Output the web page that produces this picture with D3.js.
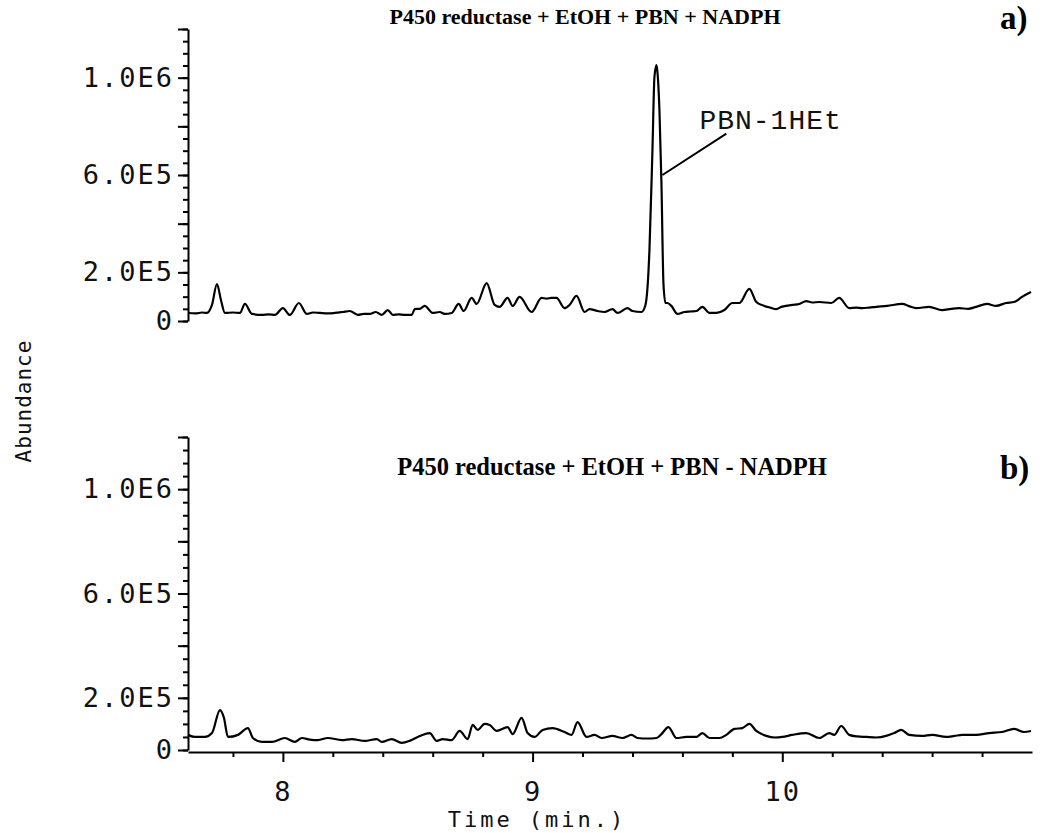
<!DOCTYPE html>
<html>
<head>
<meta charset="utf-8">
<script src="https://cdn.jsdelivr.net/npm/d3@7"></script>
<style>
  body { margin: 0; background: #fff; }
  svg { display: block; }
  .plot-font { font-family: "DejaVu Sans Mono", monospace; }
</style>
</head>
<body>
<div id="chart"></div>
<script>
// chart size (screenshot window)
var W = 1047;
var H = 833;

// trace a) : P450 reductase + EtOH + PBN + NADPH
var timeA = [7.620, 7.650, 7.676, 7.696, 7.716, 7.736, 7.752, 7.768, 7.800, 7.828, 7.848, 7.876, 7.916, 7.944, 7.968,
  8.000, 8.028, 8.064, 8.096, 8.120, 8.148, 8.180, 8.208, 8.240, 8.268, 8.300, 8.324, 8.348, 8.372, 8.396, 8.420,
  8.440, 8.464, 8.488, 8.516, 8.528, 8.548, 8.568, 8.600, 8.628, 8.648, 8.676, 8.704, 8.724, 8.756, 8.776, 8.816,
  8.848, 8.868, 8.900, 8.920, 8.948, 8.996, 9.036, 9.056, 9.076, 9.096, 9.128, 9.148, 9.176, 9.208, 9.228, 9.260,
  9.288, 9.320, 9.340, 9.380, 9.400, 9.436, 9.452, 9.468, 9.480, 9.488, 9.496, 9.500, 9.508, 9.516, 9.524, 9.532,
  9.540, 9.556, 9.580, 9.608, 9.632, 9.656, 9.680, 9.708, 9.736, 9.768, 9.800, 9.828, 9.868, 9.896, 9.928, 9.952,
  9.976, 9.996, 10.040, 10.068, 10.096, 10.120, 10.148, 10.196, 10.228, 10.268, 10.296, 10.320, 10.348, 10.376,
  10.420, 10.480, 10.510, 10.536, 10.588, 10.640, 10.676, 10.708, 10.744, 10.776, 10.820, 10.856, 10.896, 10.928,
  10.960, 10.996];
var abundA = [33, 31, 35, 33, 66, 152, 86, 33, 35, 33, 70, 29, 25, 27, 25,
  53, 25, 74, 29, 35, 33, 31, 33, 37, 41, 25, 29, 29, 37, 25, 45,
  25, 27, 25, 25, 49, 50, 62, 33, 37, 29, 33, 70, 41, 95, 70, 156,
  66, 58, 95, 62, 99, 37, 95, 92, 95, 95, 53, 66, 103, 37, 49, 41,
  37, 49, 33, 53, 41, 37, 66, 292, 703, 1003, 1052, 1023, 867, 567, 156, 74,
  74, 62, 29, 37, 39, 41, 58, 33, 33, 45, 74, 74, 132, 78, 62, 55,
  49, 58, 66, 70, 82, 76, 78, 74, 95, 53, 55, 53, 55, 58,
  62, 70, 60, 53, 58, 45, 50, 53, 50, 58, 70, 62, 74, 78,
  99, 119].map(function(d) { return d * 1000; });

// trace b) : P450 reductase + EtOH + PBN - NADPH
var timeB = [7.620, 7.648, 7.688, 7.716, 7.748, 7.764, 7.780, 7.820, 7.860, 7.880, 7.916, 7.956, 8.008, 8.048, 8.076,
  8.108, 8.140, 8.180, 8.236, 8.276, 8.328, 8.376, 8.396, 8.436, 8.476, 8.508, 8.540, 8.588, 8.616, 8.640, 8.676,
  8.708, 8.740, 8.760, 8.780, 8.808, 8.828, 8.856, 8.900, 8.920, 8.956, 8.980, 9.008, 9.040, 9.080, 9.128, 9.156,
  9.180, 9.216, 9.248, 9.276, 9.320, 9.360, 9.396, 9.420, 9.460, 9.496, 9.516, 9.544, 9.576, 9.616, 9.656, 9.680,
  9.708, 9.748, 9.776, 9.808, 9.840, 9.868, 9.896, 9.936, 9.970, 10.000, 10.040, 10.096, 10.148, 10.188, 10.208,
  10.236, 10.268, 10.300, 10.336, 10.376, 10.416, 10.448, 10.476, 10.508, 10.560, 10.600, 10.656, 10.690, 10.720,
  10.776, 10.828, 10.880, 10.928, 10.968, 10.996];
var abundB = [58, 50, 50, 65, 153, 123, 50, 58, 84, 46, 31, 31, 46, 31, 46,
  40, 38, 46, 38, 42, 35, 42, 31, 42, 27, 35, 50, 65, 35, 42, 38,
  73, 42, 96, 77, 100, 96, 73, 88, 61, 123, 65, 50, 77, 84, 69, 58,
  107, 50, 58, 46, 54, 46, 58, 46, 44, 46, 61, 88, 46, 50, 50, 65,
  46, 46, 58, 81, 84, 100, 73, 54, 48, 50, 58, 65, 46, 65, 58,
  92, 58, 52, 50, 48, 54, 65, 77, 58, 54, 58, 50, 54, 58,
  58, 65, 69, 81, 69, 73].map(function(d) { return d * 1000; });

// axis ticks and labels
var yLabelValues = [0, 200000, 600000, 1000000];
var yLabelText = ["0", "2.0E5", "6.0E5", "1.0E6"];
var yMidValues = [400000, 800000, 1200000];
var yMinorStep = 50000;
var yMax = 1200000;
var xMajorValues = [8, 9, 10];
var xMinorValues = [7.8, 8.2, 8.4, 8.6, 8.8, 9.2, 9.4, 9.6, 9.8, 10.2, 10.4, 10.6, 10.8];
var xDomain = [7.62, 11.0];

var svg = d3.select('#chart')
  .append('svg')
  .attr('width', W)
  .attr('height', H);

var x = d3.scaleLinear().domain(xDomain).range([188, 1032]);
var yA = d3.scaleLinear().domain([0, yMax]).range([321, 29]);
var yB = d3.scaleLinear().domain([0, yMax]).range([750, 437]);

function styleTickText(sel) {
  sel.attr('class', 'plot-font')
    .attr('font-size', 27)
    .attr('letter-spacing', 2)
    .attr('fill', '#111')
    .attr('font-family', null);
}

function yAxis(y) {
  var g = svg.append('g').attr('transform', 'translate(188,0)');

  // minor ticks
  g.append('g')
    .call(d3.axisLeft(y)
      .tickValues(d3.range(0, yMax + 1, yMinorStep))
      .tickSize(5)
      .tickSizeOuter(0)
      .tickFormat(''));

  // long unlabeled ticks
  g.append('g')
    .call(d3.axisLeft(y)
      .tickValues(yMidValues)
      .tickSize(10)
      .tickFormat(''))
    .select('.domain').remove();

  // labeled ticks
  g.append('g')
    .call(d3.axisLeft(y)
      .tickValues(yLabelValues)
      .tickSize(10)
      .tickPadding(4)
      .tickFormat(function(d, i) { return yLabelText[i]; }))
    .select('.domain').remove();

  g.selectAll('path, line').attr('stroke', '#000').attr('stroke-width', 2);
  styleTickText(g.selectAll('text'));
}

yAxis(yA);
yAxis(yB);

// time axis, bottom panel only
var xg = svg.append('g').attr('transform', 'translate(0,' + (yB(0) + 2) + ')');
xg.append('g')
  .call(d3.axisBottom(x).tickValues(xMinorValues).tickSize(5).tickSizeOuter(0).tickFormat(''));
xg.append('g')
  .call(d3.axisBottom(x).tickValues(xMajorValues).tickSize(10).tickPadding(20).tickFormat(d3.format('d')))
  .select('.domain').remove();
xg.selectAll('path, line').attr('stroke', '#000').attr('stroke-width', 2);
styleTickText(xg.selectAll('text'));

// traces
var lineA = d3.line()
  .x(function(d, i) { return x(timeA[i]); })
  .y(function(d) { return yA(d); })
  .curve(d3.curveMonotoneX);
var lineB = d3.line()
  .x(function(d, i) { return x(timeB[i]); })
  .y(function(d) { return yB(d); })
  .curve(d3.curveMonotoneX);

svg.append('path')
  .attr('d', lineA(abundA))
  .attr('fill', 'none')
  .attr('stroke', '#000')
  .attr('stroke-width', 2.2)
  .attr('stroke-linejoin', 'round');

svg.append('path')
  .attr('d', lineB(abundB))
  .attr('fill', 'none')
  .attr('stroke', '#000')
  .attr('stroke-width', 2.2)
  .attr('stroke-linejoin', 'round');

// peak annotation
svg.append('line')
  .attr('x1', x(9.52)).attr('y1', yA(600000))
  .attr('x2', x(9.776)).attr('y2', yA(770000))
  .attr('stroke', '#000')
  .attr('stroke-width', 2);

svg.append('text')
  .attr('x', x(9.668))
  .attr('y', yA(790000))
  .attr('font-family', '"Liberation Mono", "Courier New", monospace')
  .attr('font-size', 28)
  .attr('letter-spacing', 1)
  .attr('fill', '#111')
  .text('PBN-1HEt');

// panel titles
svg.append('text')
  .attr('x', 585).attr('y', 24)
  .attr('text-anchor', 'middle')
  .attr('font-family', '"Liberation Serif", "Times New Roman", serif')
  .attr('font-weight', 'bold')
  .attr('font-size', 22)
  .text('P450 reductase + EtOH + PBN + NADPH');

svg.append('text')
  .attr('x', 612).attr('y', 475)
  .attr('text-anchor', 'middle')
  .attr('font-family', '"Liberation Serif", "Times New Roman", serif')
  .attr('font-weight', 'bold')
  .attr('font-size', 24.5)
  .text('P450 reductase + EtOH + PBN - NADPH');

svg.append('text')
  .attr('x', 1000).attr('y', 29)
  .attr('font-family', '"Liberation Serif", "Times New Roman", serif')
  .attr('font-weight', 'bold')
  .attr('font-size', 33)
  .text('a)');

svg.append('text')
  .attr('x', 1000).attr('y', 479)
  .attr('font-family', '"Liberation Serif", "Times New Roman", serif')
  .attr('font-weight', 'bold')
  .attr('font-size', 33)
  .text('b)');

// axis titles
svg.append('text')
  .attr('transform', 'translate(31,401) rotate(-90)')
  .attr('text-anchor', 'middle')
  .attr('class', 'plot-font')
  .attr('font-size', 21)
  .attr('letter-spacing', 1)
  .attr('fill', '#111')
  .text('Abundance');

svg.append('text')
  .attr('x', 537).attr('y', 827)
  .attr('text-anchor', 'middle')
  .attr('class', 'plot-font')
  .attr('font-size', 22)
  .attr('letter-spacing', 3)
  .attr('fill', '#111')
  .text('Time (min.)');
</script>
</body>
</html>
